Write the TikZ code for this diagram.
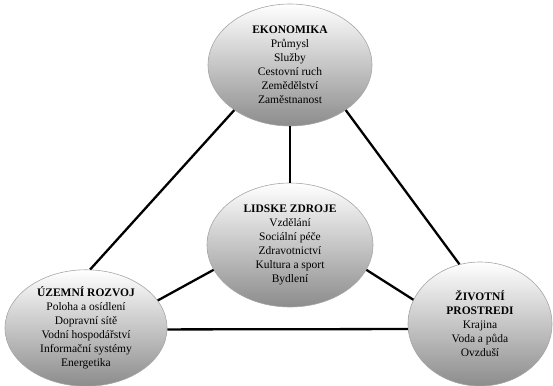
\documentclass[tikz,border=0pt]{standalone}
\usepackage{fontspec}
\setmainfont{Liberation Serif}
\usetikzlibrary{shapes.geometric}
\begin{document}
\begin{tikzpicture}[x=1pt,y=-1pt,
  topic/.style={ellipse, draw=gray!70, line width=0.6pt, top color=white, bottom color=black!45,
    inner sep=0pt, align=center, font=\fontsize{11.5}{14}\selectfont},
  link/.style={draw=black, line width=2.3pt}]
\useasboundingbox (0,0) rectangle (553,385);
\node[topic, minimum width=164, minimum height=122] (eko) at (290,65)
  {\textbf{EKONOMIKA}\\Průmysl\\Služby\\Cestovní ruch\\Zemědělství\\Zaměstnanost};
\node[topic, minimum width=166, minimum height=124] (lid) at (290,245)
  {\textbf{LIDSKE ZDROJE}\\Vzdělání\\Sociální péče\\Zdravotnictví\\Kultura a sport\\Bydlení};
\node[topic, minimum width=162, minimum height=112] (uze) at (86,328)
  {\textbf{ÚZEMNÍ ROZVOJ}\\Poloha a osídlení\\Dopravní sítě\\Vodní hospodářství\\Informační systémy\\Energetika};
\node[topic, minimum width=144, minimum height=124] (ziv) at (480,324)
  {\textbf{ŽIVOTNÍ}\\\textbf{PROSTREDI}\\Krajina\\Voda a půda\\Ovzduší};
\draw[link] (eko.219) -- (uze.86);
\draw[link] (eko.321) -- (ziv.109);
\draw[link] (eko.south) -- (lid.north);
\draw[link] (lid.198) -- (uze.21);
\draw[link] (lid.342) -- (ziv.160);
\draw[link] (uze.-1) -- (ziv.184);
\end{tikzpicture}
\end{document}
